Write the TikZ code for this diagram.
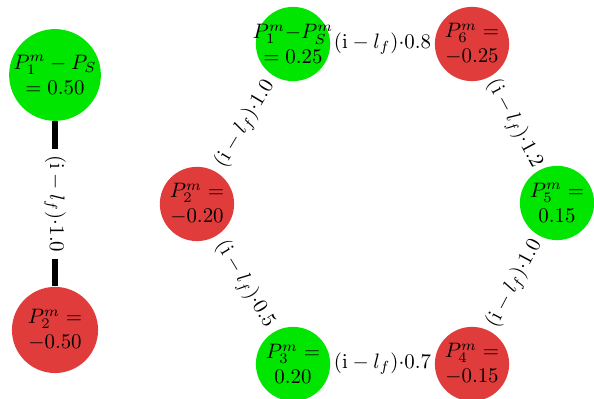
\documentclass[tikz,border=0pt]{standalone}
\usetikzlibrary{positioning}
\definecolor{posgreen}{HTML}{00E600}
\definecolor{negred}{HTML}{E03C3C}
\tikzset{
  bignode/.style={circle,minimum size=1.45cm,inner sep=0pt,align=center},
  hexnode/.style={circle,minimum size=1.25cm,inner sep=-4pt,align=center},
  posfill/.style={fill=posgreen},
  negfill/.style={fill=negred},
  link/.style={line width=3pt,draw=black},
  wlbl/.style={sloped,inner sep=3pt},
}
\newcommand{\wgt}[1]{$(\mathrm{i}-l_f){\cdot}#1$}

\begin{document}
\begin{tikzpicture}
  \useasboundingbox (0,0) rectangle (10,6.717);

  % ===== left pair =====
  \node[bignode,posfill] (a1) at (0.926,5.455) {$P_1^m-P_S$\\$=0.50$};
  \node[bignode,negfill] (a2) at (0.926,1.162) {$P_2^m=$\\$-0.50$};
  \draw[link] (a1) -- node[wlbl,fill=white] {\wgt{1.0}} (a2);

  % ===== hexagon =====
  \node[hexnode,posfill] (p1) at (4.933,5.976) {$P_1^m{-}P_S^m$\\$=0.25$};
  \node[hexnode,negfill] (p6) at (7.946,5.976) {$P_6^m=$\\$-0.25$};
  \node[hexnode,posfill] (p5) at (9.377,3.300) {$P_5^m=$\\$0.15$};
  \node[hexnode,negfill] (p4) at (7.946,0.589) {$P_4^m=$\\$-0.15$};
  \node[hexnode,posfill] (p3) at (4.933,0.589) {$P_3^m=$\\$0.20$};
  \node[hexnode,negfill] (p2) at (3.316,3.283) {$P_2^m=$\\$-0.20$};

  % edge weights (edges themselves not drawn)
  \path (p1) -- node[wlbl] {\wgt{0.8}} (p6);
  \path (p6) -- node[wlbl] {\wgt{1.2}} (p5);
  \path (p4) -- node[wlbl] {\wgt{1.0}} (p5);
  \path (p3) -- node[wlbl] {\wgt{0.7}} (p4);
  \path (p2) -- node[wlbl] {\wgt{0.5}} (p3);
  \path (p2) -- node[wlbl] {\wgt{1.0}} (p1);
\end{tikzpicture}
\end{document}
